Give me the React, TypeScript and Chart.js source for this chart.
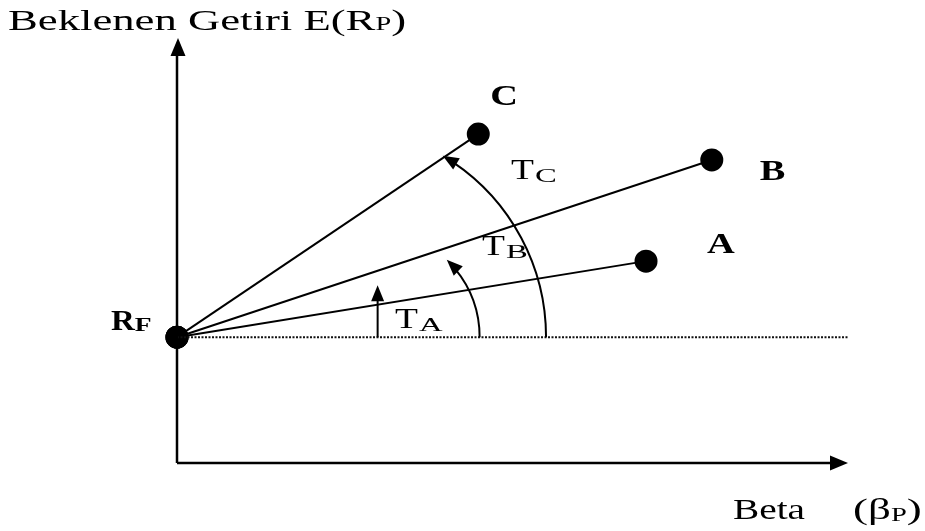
import React, { useEffect, useRef } from "react";
import { Chart, registerables } from "chart.js";

Chart.register(...registerables);

const portfolioNames = ["C", "B", "A"];
const portfolioBetas = [4.49, 7.97, 6.99];
const portfolioReturns = [7.74, 7.13, 4.75];
const riskFreeRate = 2.96;
const xAxisRange = [0, 10];
const yAxisRange = [0, 10];
const treynorLabels = ["T", "T", "T"];
const treynorSubs = ["A", "B", "C"];
// Treynor angle arrows: start beta, end (beta, return) in data units
const arrowStartBetas = [2.99, 4.51, 5.5];
const arrowEnds = [
  [2.99, 4.18],
  [4.02, 4.78],
  [3.96, 7.23],
];

const SERIF = "'Liberation Serif', 'Times New Roman', serif";

function sText(ctx: CanvasRenderingContext2D, s: string, x: number, y: number, font: string, stretch: number) {
  ctx.save();
  ctx.font = font;
  ctx.translate(x, y);
  ctx.scale(stretch, 1);
  ctx.fillText(s, 0, 0);
  const w = ctx.measureText(s).width * stretch;
  ctx.restore();
  return w;
}

function arrowHead(ctx: CanvasRenderingContext2D, tx: number, ty: number, dx: number, dy: number, len: number, wid: number) {
  const m = Math.hypot(dx, dy);
  const ux = dx / m, uy = dy / m;
  const px = -uy, py = ux;
  ctx.beginPath();
  ctx.moveTo(tx, ty);
  ctx.lineTo(tx - ux * len + px * wid / 2, ty - uy * len + py * wid / 2);
  ctx.lineTo(tx - ux * len - px * wid / 2, ty - uy * len - py * wid / 2);
  ctx.closePath();
  ctx.fill();
}

const diagramPlugin = {
  id: "diagram",
  afterDraw(chart: any) {
    const ctx: CanvasRenderingContext2D = chart.ctx;
    const xs = chart.scales.x, ys = chart.scales.y;
    const X = (v: number) => xs.getPixelForValue(v);
    const Y = (v: number) => ys.getPixelForValue(v);
    const x0 = X(xAxisRange[0]), y0 = Y(yAxisRange[0]);
    const x1 = X(xAxisRange[1]), y1 = Y(yAxisRange[1]);
    ctx.save();
    ctx.strokeStyle = "#000";
    ctx.fillStyle = "#000";
    ctx.lineWidth = 2.5;
    // axes
    ctx.beginPath();
    ctx.moveTo(x0, y0);
    ctx.lineTo(x0, y1 + 14);
    ctx.moveTo(x0, y0);
    ctx.lineTo(x1 - 14, y0);
    ctx.stroke();
    arrowHead(ctx, x0 + 1, y1, 0, -1, 18, 15);
    arrowHead(ctx, x1, y0, 1, 0, 18, 15);

    // Treynor arrows
    ctx.lineWidth = 2;
    const yRF = Y(riskFreeRate);
    arrowStartBetas.forEach((sb, i) => {
      const sx = X(sb), sy = yRF;
      const ex = X(arrowEnds[i][0]), ey = Y(arrowEnds[i][1]);
      if (Math.abs(ex - sx) < 1) {
        ctx.beginPath();
        ctx.moveTo(sx, sy);
        ctx.lineTo(ex, ey + 12);
        ctx.stroke();
        arrowHead(ctx, ex, ey, 0, -1, 16, 13);
      } else {
        const cx = (ex * ex + (ey - sy) * (ey - sy) - sx * sx) / (2 * (ex - sx));
        const r = sx - cx;
        const a1 = Math.atan2(ey - sy, ex - cx);
        const rx = ex - cx, ry = ey - sy;
        const back = 12 / r;
        ctx.beginPath();
        ctx.arc(cx, sy, r, 0, a1 + back, true);
        ctx.stroke();
        arrowHead(ctx, ex, ey, ry, -rx, 16, 13);
      }
    });

    ctx.textBaseline = "alphabetic";
    ctx.textAlign = "left";
    const REG = `30px ${SERIF}`;
    const SUB = `19px ${SERIF}`;
    const BOLD = `bold 30px ${SERIF}`;
    const BSUB = `bold 19px ${SERIF}`;

    // title
    let x = 8;
    x += sText(ctx, "Beklenen Getiri E(R", x, 30, REG, 1.49);
    x += sText(ctx, "P", x, 30, SUB, 1.49);
    sText(ctx, ")", x, 30, REG, 1.49);

    // beta label
    sText(ctx, "Beta", 733, 519, REG, 1.31);
    x = 853;
    x += sText(ctx, "(\u03B2", x, 519, REG, 1.5);
    x += sText(ctx, "P", x, 521, SUB, 1.5);
    sText(ctx, ")", x, 519, REG, 1.5);

    // RF
    x = 111;
    x += sText(ctx, "R", x, 330, BOLD, 1.1);
    sText(ctx, "F", x, 331, BSUB, 1.45);

    // portfolio labels
    const labelOffsets = [[12, -29], [48, 20], [61, -8]];
    portfolioNames.forEach((n, i) => {
      const px = X(portfolioBetas[i]) + labelOffsets[i][0];
      const py = Y(portfolioReturns[i]) + labelOffsets[i][1];
      sText(ctx, n, px, py, BOLD, 1.28);
    });

    // T labels
    const tPos = [[395, 328], [482, 255], [511, 179]];
    tPos.forEach((p, i) => {
      const w = sText(ctx, treynorLabels[i], p[0], p[1], REG, 1.25);
      sText(ctx, treynorSubs[i], p[0] + w + 1, p[1] + 3, SUB, 1.72);
    });
    ctx.restore();
  },
};

export default function App() {
  const ref = useRef<HTMLCanvasElement>(null);
  useEffect(() => {
    document.body.style.margin = "0";
    const lineSets = portfolioNames.map((n, i) => ({
      label: n,
      data: [
        { x: 0, y: riskFreeRate },
        { x: portfolioBetas[i], y: portfolioReturns[i] },
      ],
      showLine: true,
      clip: false as any,
      borderColor: "#000",
      backgroundColor: "#000",
      borderWidth: 2,
      pointRadius: 10.5,
      pointHoverRadius: 10.5,
    }));
    const chart = new Chart(ref.current!, {
      type: "scatter",
      data: {
        datasets: [
          {
            label: "rf",
            data: [
              { x: 0, y: riskFreeRate },
              { x: xAxisRange[1], y: riskFreeRate },
            ],
            showLine: true,
            borderColor: "#111",
            borderWidth: 2,
            borderDash: [2, 1.5],
            pointRadius: 0,
          },
          ...lineSets,
        ],
      },
      options: {
        responsive: false,
        animation: false,
        layout: { padding: { left: 177, right: 77, top: 38, bottom: 68 } },
        plugins: { legend: { display: false }, tooltip: { enabled: false } },
        scales: {
          x: { type: "linear", min: xAxisRange[0], max: xAxisRange[1], display: false },
          y: { type: "linear", min: yAxisRange[0], max: yAxisRange[1], display: false },
        },
      },
      plugins: [diagramPlugin],
    });
    return () => chart.destroy();
  }, []);
  return (
    <div style={{ width: 925, height: 531, background: "#fff" }}>
      <canvas ref={ref} width={925} height={531} />
    </div>
  );
}
